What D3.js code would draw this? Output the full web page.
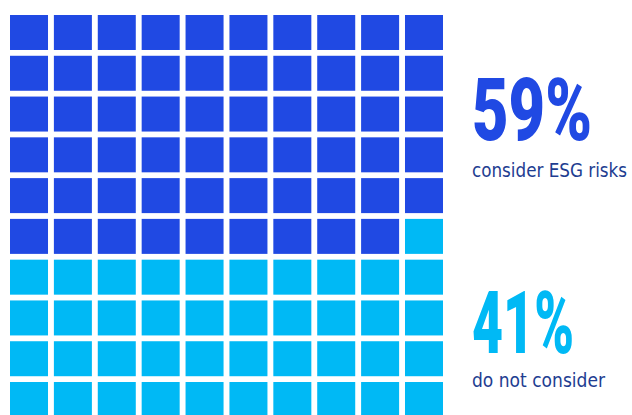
<!DOCTYPE html>
<html>
<head>
<meta charset="utf-8">
<script src="https://cdn.jsdelivr.net/npm/d3@7"></script>
<style>
  body { margin: 0; background: #fff; }
</style>
</head>
<body>
<div id="chart"></div>
<script>
// waffle: share of respondents, 100 cells
var groups = ["consider ESG risks", "do not consider"];
var shares = [59, 41];
var labels = ["59%", "41%"];
var colors = ["#2049e3", "#00b9f5"];

var cols = d3.range(10);
var rows = d3.range(10);

var width = 632, height = 415;

var svg = d3.select("#chart").append("svg")
    .attr("width", width)
    .attr("height", height);

var x = d3.scaleBand().domain(cols).range([10, 443]).paddingInner(0.134).paddingOuter(0);
var y = d3.scaleBand().domain(rows).range([15, 417]).paddingInner(0.142).paddingOuter(0);

// one entry per cell, filled row by row
var cells = [];
var k = 0;
shares.forEach(function(s, g) {
  for (var i = 0; i < s; ++i) {
    cells.push({ i: k, group: g });
    k++;
  }
});

svg.append("g")
  .selectAll("rect")
  .data(cells)
  .enter().append("rect")
    .attr("x", function(d) { return x(d.i % 10); })
    .attr("y", function(d) { return y(Math.floor(d.i / 10)); })
    .attr("width", x.bandwidth())
    .attr("height", y.bandwidth())
    .attr("fill", function(d) { return colors[d.group]; });

// big numbers + captions
var bigY = [140, 353];
var bigW = [120, 102];
var capY = [177, 387];
var capW = [155, 133];

var txt = svg.append("g");

txt.selectAll("text.big")
  .data(labels)
  .enter().append("text")
    .attr("class", "big")
    .attr("x", 472)
    .attr("y", function(d, i) { return bigY[i]; })
    .attr("textLength", function(d, i) { return bigW[i]; })
    .attr("lengthAdjust", "spacingAndGlyphs")
    .style("font-family", "Roboto, 'DejaVu Sans Condensed', sans-serif")
    .style("font-weight", "900")
    .style("font-size", "88px")
    .attr("fill", function(d, i) { return colors[i]; })
    .text(function(d) { return d; });

txt.selectAll("text.cap")
  .data(groups)
  .enter().append("text")
    .attr("class", "cap")
    .attr("x", 472)
    .attr("y", function(d, i) { return capY[i]; })
    .attr("textLength", function(d, i) { return capW[i]; })
    .attr("lengthAdjust", "spacingAndGlyphs")
    .style("font-family", "'DejaVu Sans Condensed', sans-serif")
    .style("font-size", "19px")
    .attr("fill", "#1e3d91")
    .text(function(d) { return d; });
</script>
</body>
</html>
